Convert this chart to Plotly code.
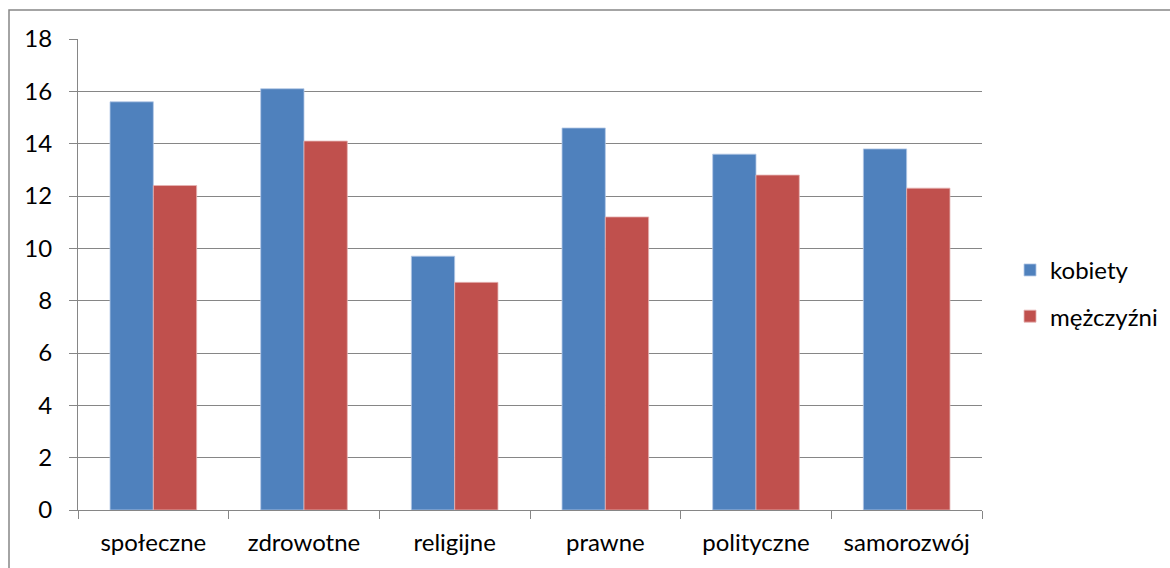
import plotly.graph_objects as go

categories = ["społeczne", "zdrowotne", "religijne", "prawne", "polityczne", "samorozwój"]
kobiety = [15.6, 16.1, 9.7, 14.6, 13.6, 13.8]
mezczyzni = [12.4, 14.1, 8.7, 11.2, 12.8, 12.3]
y_ticks = [0, 2, 4, 6, 8, 10, 12, 14, 16, 18]

W, H = 1170, 568
ML, MR, MT, MB = 78, 188, 39, 58
PW, PH = W - ML - MR, H - MT - MB

FONT = "Lato"
FS = 24
GRID = "#868686"

fig = go.Figure()
fig.add_trace(go.Bar(
    x=categories, y=kobiety, name="kobiety", legendgroup="k",
    marker=dict(color="#4F81BD", line=dict(color="rgba(180,200,230,0.8)", width=1)),
))
fig.add_trace(go.Bar(
    x=categories, y=mezczyzni, name="mężczyźni", legendgroup="m",
    marker=dict(color="#C0504D", line=dict(color="rgba(230,180,180,0.8)", width=1)),
))

# outer chart frame (left and top edges visible)
fig.add_shape(
    type="rect", xref="paper", yref="paper",
    x0=(9 - ML) / PW, x1=2, y0=-1, y1=(H - MB - 10) / PH,
    line=dict(color=GRID, width=1.5), fillcolor="rgba(0,0,0,0)", layer="below",
)

fig.update_layout(
    width=W, height=H,
    margin=dict(l=ML, r=MR, t=MT, b=MB, pad=0, autoexpand=False),
    paper_bgcolor="white", plot_bgcolor="white",
    barmode="group", bargap=0.425, bargroupgap=0,
    font=dict(family=FONT, size=FS, color="#000000"),
    showlegend=True,
    legend=dict(
        x=1.031, xanchor="left", y=0.46, yanchor="middle",
        traceorder="grouped", tracegroupgap=12,
        font=dict(family=FONT, size=FS, color="#000000"),
        itemwidth=30, bgcolor="rgba(0,0,0,0)",
    ),
    xaxis=dict(
        type="category", tickson="boundaries",
        ticks="outside", ticklen=8, tickcolor=GRID, tickwidth=1,
        showline=True, linecolor=GRID, linewidth=1,
        showgrid=False, ticklabelstandoff=11,
    ),
    yaxis=dict(
        range=[0, 18], tickvals=y_ticks,
        ticks="outside", ticklen=8, tickcolor=GRID, tickwidth=1,
        showline=True, linecolor=GRID, linewidth=1,
        showgrid=True, gridcolor=GRID, gridwidth=1,
        zeroline=False, ticklabelstandoff=12,
    ),
)

fig.write_html("out.html")
